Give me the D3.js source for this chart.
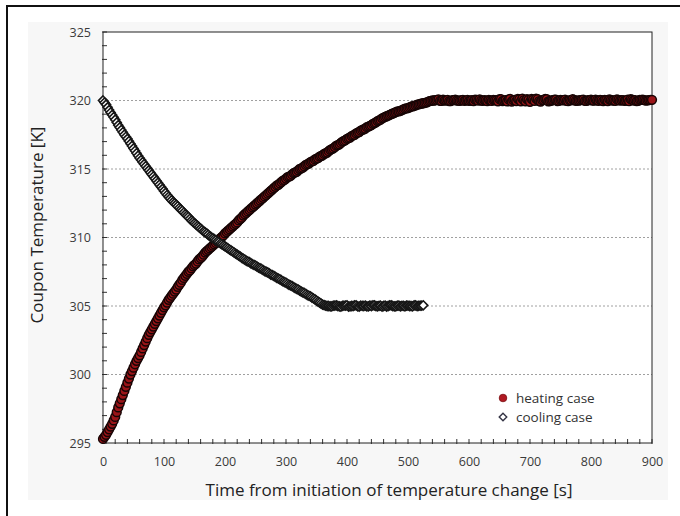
<!DOCTYPE html>
<html>
<head>
<meta charset="utf-8">
<script src="https://cdn.jsdelivr.net/npm/d3@7"></script>
<style>
  html, body { margin: 0; padding: 0; background: #ffffff; }
  svg { display: block; }
  text { font-family: "Open Sans", "Lato", sans-serif; }
</style>
</head>
<body>
<svg id="chart" width="680" height="516"></svg>
<script>
// ---------------- data ----------------
// samples every 5 s starting at t = 0 s, plus in-between samples at t = 2.5 s + 5 s·i
const timeStep = 5;
const midOffset = 2.5;

const heatingTemp = [
  295.3, 295.6, 296.0, 296.4, 296.9, 297.6, 298.2, 298.8, 299.4, 300.0,
  300.5, 301.0, 301.4, 301.9, 302.4, 302.9, 303.3, 303.7, 304.1, 304.5,
  304.9, 305.25, 305.6, 305.9, 306.2, 306.55, 306.9, 307.2, 307.5, 307.75,
  308.0, 308.25, 308.5, 308.75, 309.0, 309.2, 309.4, 309.6, 309.8, 310.05,
  310.3, 310.5, 310.7, 310.9, 311.1, 311.35, 311.6, 311.8, 312.0, 312.2,
  312.4, 312.6, 312.8, 313.0, 313.2, 313.4, 313.6, 313.8, 313.95, 314.15,
  314.3, 314.45, 314.6, 314.75, 314.9, 315.05, 315.2, 315.35, 315.5, 315.6,
  315.75, 315.9, 316.0, 316.15, 316.3, 316.45, 316.6, 316.75, 316.9, 317.05,
  317.2, 317.3, 317.45, 317.6, 317.7, 317.85, 317.95, 318.1, 318.2, 318.35,
  318.5, 318.6, 318.75, 318.85, 318.95, 319.05, 319.15, 319.2, 319.3, 319.4,
  319.45, 319.55, 319.6, 319.7, 319.75, 319.8, 319.85, 319.95, 320.0,
  320.02, 320.08, 319.97, 320.0, 320.05, 319.96, 320.03, 320.0, 319.98, 320.04,
  320.01, 319.97, 320.02, 320.06, 319.99, 320.0, 320.03, 319.95, 320.01, 320.04,
  320.0, 320.1, 319.96, 320.02, 320.08, 319.92, 320.05, 320.12, 319.94, 320.03,
  320.1, 319.9, 320.06, 320.14, 319.95, 320.02, 320.11, 319.93, 320.0, 320.07,
  319.96, 320.04, 320.01, 319.97, 320.03, 320.09, 319.98, 320.0, 320.05, 319.97,
  320.02, 320.06, 319.99, 320.01, 320.04, 319.96, 320.03, 320.08, 320.0, 319.98,
  320.05, 320.02, 319.97, 320.06, 320.1, 320.0, 319.96, 320.04, 320.07, 319.99,
  320.03, 320.05
];

const heatingTempMid = [
  295.45, 295.8, 296.2, 296.65, 297.25, 297.9, 298.5, 299.1, 299.7, 300.25,
  300.75, 301.2, 301.65, 302.15, 302.65, 303.1, 303.5, 303.9, 304.3, 304.7,
  305.05, 305.45, 305.75, 306.05, 306.4, 306.7, 307.05, 307.35, 307.6, 307.9,
  308.1, 308.4, 308.6, 308.9, 309.1, 309.3, 309.5, 309.7, 309.95, 310.15,
  310.4, 310.6, 310.8, 311.0, 311.25, 311.45, 311.7, 311.9, 312.1, 312.3,
  312.5, 312.7, 312.9, 313.1, 313.3, 313.5, 313.7, 313.85, 314.05, 314.2,
  314.4, 314.5, 314.7, 314.8, 315.0, 315.1, 315.3, 315.4, 315.55, 315.7,
  315.8, 315.95, 316.1, 316.2, 316.4, 316.5, 316.7, 316.8, 317.0, 317.1,
  317.25, 317.4, 317.5, 317.65, 317.8, 317.9, 318.05, 318.15, 318.3, 318.4,
  318.55, 318.7, 318.8, 318.9, 319.0, 319.1, 319.2, 319.25, 319.35, 319.42,
  319.5, 319.58, 319.65, 319.72, 319.78, 319.82, 319.9, 319.97,
  320.0, 320.04, 319.98, 320.06, 320.01, 319.95, 320.03, 320.07, 319.99, 320.02,
  319.97, 320.05, 320.0, 319.96, 320.04, 320.08, 319.98, 320.01, 320.05, 319.97,
  320.03, 319.94, 320.09, 320.0, 319.93, 320.11, 320.02, 319.96, 320.08, 320.13,
  319.94, 320.05, 320.12, 319.97, 320.09, 319.92, 320.04, 320.1, 319.96, 320.02,
  320.06, 319.98, 320.03, 320.07, 319.95, 320.01, 320.04, 319.99, 320.02, 320.06,
  319.97, 320.03, 320.0, 320.07, 319.98, 320.02, 320.05, 319.96, 320.04, 320.01,
  320.08, 319.99, 320.03, 320.0, 319.95, 320.06, 320.02, 319.98, 320.05, 320.03,
  320.01, 320.04
];

const coolingTemp = [
  320.0, 319.7, 319.3, 318.95, 318.6, 318.2, 317.85, 317.5, 317.2, 316.85,
  316.5, 316.15, 315.8, 315.5, 315.2, 314.9, 314.6, 314.3, 314.0, 313.7,
  313.4, 313.1, 312.85, 312.6, 312.4, 312.15, 311.95, 311.7, 311.5, 311.25,
  311.05, 310.85, 310.65, 310.45, 310.3, 310.1, 309.95, 309.8, 309.65, 309.5,
  309.35, 309.2, 309.05, 308.9, 308.75, 308.6, 308.45, 308.3, 308.2, 308.05,
  307.95, 307.8, 307.7, 307.55, 307.45, 307.3, 307.2, 307.05, 306.95, 306.8,
  306.7, 306.55, 306.45, 306.3, 306.2, 306.05, 305.95, 305.8, 305.7, 305.55,
  305.4, 305.25, 305.1, 305.03,
  305.0, 304.97, 305.03, 305.0, 304.95, 305.02, 305.05, 304.98, 305.0, 305.04,
  304.96, 305.01, 305.03, 304.97, 305.0, 305.05, 304.98, 305.02, 305.0, 304.96,
  305.04, 305.0, 304.98, 305.03, 305.01, 304.97, 305.02, 305.0, 305.04, 304.99,
  305.02, 305.05
];

const coolingTempMid = [
  319.85, 319.5, 319.12, 318.78, 318.4, 318.03, 317.68, 317.35, 317.03, 316.68,
  316.33, 315.97, 315.65, 315.35, 315.05, 314.75, 314.45, 314.15, 313.85, 313.55,
  313.25, 312.97, 312.72, 312.5, 312.28, 312.05, 311.82, 311.6, 311.37, 311.15,
  310.95, 310.75, 310.55, 310.38, 310.2, 310.02, 309.88, 309.72, 309.57, 309.42,
  309.28, 309.12, 308.98, 308.82, 308.68, 308.52, 308.38, 308.25, 308.12, 308.0,
  307.87, 307.75, 307.62, 307.5, 307.38, 307.25, 307.12, 307.0, 306.88, 306.75,
  306.62, 306.5, 306.38, 306.25, 306.12, 306.0, 305.88, 305.75, 305.62, 305.48,
  305.32, 305.18, 305.06, 305.0, 304.98, 305.02, 305.04, 304.97, 305.01, 305.03,
  304.96, 305.0, 305.04, 304.98, 305.02, 305.0, 304.97, 305.03, 305.05, 304.99,
  305.01, 304.96, 305.03, 305.0, 305.04, 304.98, 305.02, 304.97, 305.01, 305.03,
  305.0, 304.98, 305.04, 305.01, 305.02
];

const xTicks = [0, 100, 200, 300, 400, 500, 600, 700, 800, 900];
const yTicks = [295, 300, 305, 310, 315, 320, 325];
const gridValues = [300, 305, 310, 315, 320];
const seriesNames = ["heating case", "cooling case"];
const xTitle = "Time from initiation of temperature change [s]";
const yTitle = "Coupon Temperature [K]";

// ---------------- layout ----------------
const svg = d3.select("#chart");
const plot = { left: 103, top: 32, right: 652, bottom: 443 };

const x = d3.scaleLinear().domain([0, 900]).range([plot.left, plot.right]);
const y = d3.scaleLinear().domain([295, 325]).range([plot.bottom, plot.top]);

// faint grey panel behind the chart
svg.append("rect")
  .attr("x", 28).attr("y", 22).attr("width", 640).attr("height", 478)
  .attr("fill", "#f7f7f7");

// outer frame (top and left edges visible)
svg.append("path")
  .attr("d", "M7,520 L7,6 L684,6")
  .attr("fill", "none").attr("stroke", "#111").attr("stroke-width", 2);

// plot background
svg.append("rect")
  .attr("x", plot.left).attr("y", plot.top)
  .attr("width", plot.right - plot.left).attr("height", plot.bottom - plot.top)
  .attr("fill", "#ffffff");

// gridlines
svg.append("g").selectAll("line").data(gridValues).join("line")
  .attr("x1", plot.left).attr("x2", plot.right)
  .attr("y1", d => y(d)).attr("y2", d => y(d))
  .attr("stroke", "#a0a0a0").attr("stroke-width", 1)
  .attr("stroke-dasharray", "2,2");

// minor ticks (inward)
const xMinor = d3.range(0, 901, 20);
const yMinor = d3.range(295, 326, 1);
svg.append("g").selectAll("line").data(xMinor).join("line")
  .attr("x1", d => x(d)).attr("x2", d => x(d))
  .attr("y1", plot.bottom + 1).attr("y2", plot.bottom - 4)
  .attr("stroke", "#333").attr("stroke-width", 1);
svg.append("g").selectAll("line").data(yMinor).join("line")
  .attr("x1", plot.left - 1).attr("x2", plot.left + 4)
  .attr("y1", d => y(d)).attr("y2", d => y(d))
  .attr("stroke", "#333").attr("stroke-width", 1);

// axes with labels
const xAxis = d3.axisBottom(x).tickValues(xTicks).tickSize(0).tickPadding(14).tickFormat(d3.format("d"));
const yAxis = d3.axisLeft(y).tickValues(yTicks).tickSize(0).tickPadding(12).tickFormat(d3.format("d"));

const gx = svg.append("g").attr("transform", `translate(0,${plot.bottom})`).call(xAxis);
const gy = svg.append("g").attr("transform", `translate(${plot.left},0)`).call(yAxis);
[gx, gy].forEach(g => {
  g.select(".domain").remove();
  g.selectAll("text")
    .attr("font-family", "'Open Sans', sans-serif")
    .attr("font-size", 12.5).attr("fill", "#3a3a3a");
});

// frame around plot
svg.append("rect")
  .attr("x", plot.left).attr("y", plot.top)
  .attr("width", plot.right - plot.left).attr("height", plot.bottom - plot.top)
  .attr("fill", "none").attr("stroke", "#222").attr("stroke-width", 1);

// series (main samples and in-between samples merged in time order)
const toSeries = (main, mid) => main.map((v, i) => ({ t: i * timeStep, v }))
  .concat(mid.map((v, i) => ({ t: midOffset + i * timeStep, v })))
  .sort((a, b) => a.t - b.t);
const heatingData = toSeries(heatingTemp, heatingTempMid);
const coolingData = toSeries(coolingTemp, coolingTempMid);

svg.append("g").selectAll("circle").data(heatingData).join("circle")
  .attr("cx", d => x(d.t)).attr("cy", d => y(d.v)).attr("r", 4.4)
  .attr("fill", "#9a1418").attr("stroke", "#170505").attr("stroke-width", 1.5);

const diamond = d3.symbol().type(d3.symbolDiamond2).size(52);
svg.append("g").selectAll("path").data(coolingData).join("path")
  .attr("transform", d => `translate(${x(d.t)},${y(d.v)})`)
  .attr("d", diamond)
  .attr("fill", "#ffffff").attr("stroke", "#161616").attr("stroke-width", 1.6);

// legend
const lg = svg.append("g").attr("transform", "translate(503,398)");
lg.append("circle").attr("cx", 0).attr("cy", 0).attr("r", 3.8)
  .attr("fill", "#b01a22").attr("stroke", "#7a0d12").attr("stroke-width", 0.8);
lg.append("text").attr("x", 13).attr("y", 4.8).text(seriesNames[0])
  .attr("font-size", 13.5).attr("fill", "#333");
lg.append("path").attr("transform", "translate(0,19)").attr("d", d3.symbol().type(d3.symbolDiamond2).size(36))
  .attr("fill", "#fff").attr("stroke", "#334").attr("stroke-width", 1.4);
lg.append("text").attr("x", 13).attr("y", 23.8).text(seriesNames[1])
  .attr("font-size", 13.5).attr("fill", "#333");

// axis titles
svg.append("text")
  .attr("x", 389).attr("y", 496).attr("text-anchor", "middle")
  .attr("font-size", 17).attr("fill", "#222").text(xTitle);
svg.append("text")
  .attr("transform", "translate(43,225) rotate(-90)")
  .attr("text-anchor", "middle")
  .attr("font-size", 17).attr("fill", "#222").text(yTitle);
</script>
</body>
</html>
